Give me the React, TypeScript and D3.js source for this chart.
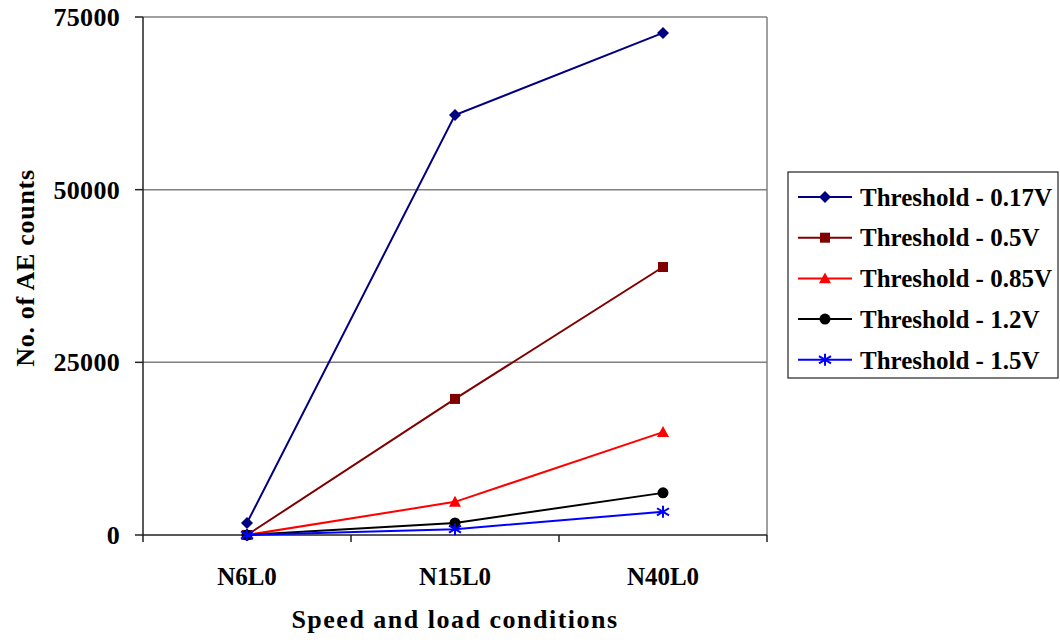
import React from "react";
import * as d3 from "d3";

const categories = ["N6L0", "N15L0", "N40L0"];
const seriesNames = ["Threshold - 0.17V", "Threshold - 0.5V", "Threshold - 0.85V", "Threshold - 1.2V", "Threshold - 1.5V"];
const v017 = [1750, 60800, 72700];
const v05 = [0, 19700, 38800];
const v085 = [0, 4800, 14900];
const v12 = [0, 1750, 6100];
const v15 = [0, 850, 3350];
const yTicks = [0, 25000, 50000, 75000];
const colors = ["#000080", "#800000", "#FF0000", "#000000", "#0000FF"];
const markers = ["diamond", "square", "triangle", "circle", "star"];

const W = 1060, H = 643;
const L = 143, R = 767, T = 17, B = 535;
const FONT = "'Times New Roman', 'Liberation Serif', 'DejaVu Serif', serif";

function Marker({ type, x, y, color }: { type: string; x: number; y: number; color: string }) {
  if (type === "diamond") {
    const s = 6;
    return <path d={`M${x},${y - s}L${x + s},${y}L${x},${y + s}L${x - s},${y}Z`} fill={color} />;
  }
  if (type === "square") return <rect x={x - 5} y={y - 5} width={10} height={10} fill={color} />;
  if (type === "triangle") {
    const s = 6;
    return <path d={`M${x},${y - s}L${x + s},${y + s * 0.8}L${x - s},${y + s * 0.8}Z`} fill={color} />;
  }
  if (type === "circle") return <circle cx={x} cy={y} r={5.5} fill={color} />;
  const s = 6;
  return (
    <g stroke={color} strokeWidth={2}>
      <line x1={x} y1={y - s} x2={x} y2={y + s} />
      <line x1={x - s} y1={y - s * 0.6} x2={x + s} y2={y + s * 0.6} />
      <line x1={x - s} y1={y + s * 0.6} x2={x + s} y2={y - s * 0.6} />
    </g>
  );
}

export default function App() {
  const series = [v017, v05, v085, v12, v15];
  const x = d3.scaleBand().domain(categories).range([L, R]).padding(0);
  const y = d3.scaleLinear().domain([0, 75000]).range([B, T]);
  const cx = (c: string) => (x(c) ?? 0) + x.bandwidth() / 2;
  const line = d3.line<number>().x((_, i) => cx(categories[i])).y((d) => y(d));
  const boundaries = [...categories.map((c) => x(c) ?? 0), R];

  return (
    <svg width={W} height={H} style={{ position: "absolute", left: 0, top: 0, background: "#fff" }} fontFamily={FONT}>
      {/* gridlines */}
      {yTicks.filter((t) => t > 0).map((t) => (
        <line key={t} x1={L} x2={R} y1={y(t)} y2={y(t)} stroke="#808080" strokeWidth={1.5} />
      ))}
      <line x1={R} x2={R} y1={T} y2={B} stroke="#808080" strokeWidth={1.5} />
      {/* axes */}
      <line x1={L} x2={L} y1={T} y2={B} stroke="#222" strokeWidth={1.5} />
      <line x1={L} x2={R} y1={B} y2={B} stroke="#222" strokeWidth={1.5} />
      {yTicks.map((t) => (
        <g key={t}>
          <line x1={L - 8} x2={L} y1={y(t)} y2={y(t)} stroke="#222" strokeWidth={1.5} />
          <text x={120} y={y(t)} dy="0.35em" textAnchor="end" fontSize={26} fontWeight="bold" letterSpacing={0.3}>{t}</text>
        </g>
      ))}
      {boundaries.map((b, i) => (
        <line key={i} x1={b} x2={b} y1={B} y2={B + 7} stroke="#222" strokeWidth={1.5} />
      ))}
      {categories.map((c) => (
        <text key={c} x={cx(c)} y={576} dy="0.35em" textAnchor="middle" fontSize={25} fontWeight="bold">{c}</text>
      ))}
      <text x={455} y={619} dy="0.35em" textAnchor="middle" fontSize={26} fontWeight="bold" letterSpacing={1.5}>Speed and load conditions</text>
      <text transform={`translate(25,268) rotate(-90)`} dy="0.35em" textAnchor="middle" fontSize={26} fontWeight="bold" letterSpacing={0.7}>No. of AE counts</text>
      {/* series */}
      {series.map((s, si) => (
        <g key={si}>
          <path d={line(s) ?? ""} fill="none" stroke={colors[si]} strokeWidth={2} />
          {s.map((v, i) => (
            <Marker key={i} type={markers[si]} x={cx(categories[i])} y={y(v)} color={colors[si]} />
          ))}
        </g>
      ))}
      {/* legend */}
      <rect x={788} y={172} width={270} height={206} fill="#fff" stroke="#222" strokeWidth={1.2} />
      {seriesNames.map((n, i) => {
        const ly = 197 + i * 40.7;
        return (
          <g key={n}>
            <line x1={798} x2={852} y1={ly} y2={ly} stroke={colors[i]} strokeWidth={2} />
            <Marker type={markers[i]} x={825} y={ly} color={colors[i]} />
            <text x={860} y={ly} dy="0.35em" fontSize={25} fontWeight="bold">{n}</text>
          </g>
        );
      })}
    </svg>
  );
}
